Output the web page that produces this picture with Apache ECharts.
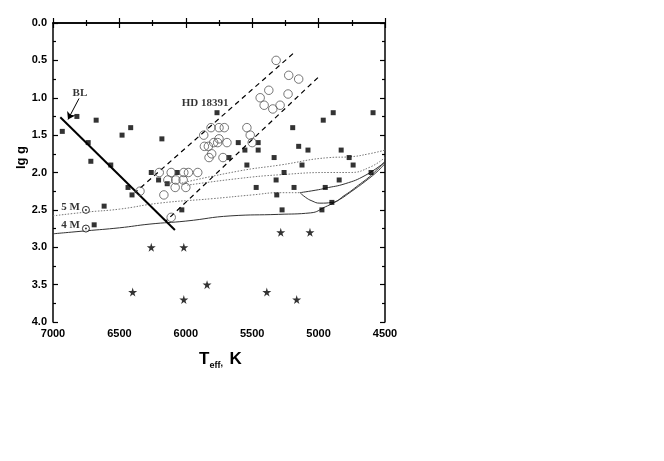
<!DOCTYPE html>
<html>
<head>
<meta charset="utf-8">
<script src="https://cdn.jsdelivr.net/npm/echarts@6/dist/echarts.min.js"></script>
<style>html,body{margin:0;padding:0;background:#fff}#c{width:664px;height:461px}</style>
</head>
<body>
<div id="c"></div>
<script>
// Filled squares (Teff, lg g)
const squares = [
  [6930,1.45],[6820,1.25],[6675,1.30],[6735,1.60],[6480,1.50],[6415,1.40],[6180,1.55],
  [6715,1.85],[6565,1.90],[6260,2.00],[6205,2.10],[6435,2.20],[6405,2.30],[6140,2.15],
  [6065,2.00],[6615,2.45],[6030,2.50],[6690,2.70],[5765,1.20],[5605,1.60],[5455,1.60],
  [5555,1.70],[5455,1.70],[5675,1.80],[5335,1.80],[5195,1.40],[5150,1.65],[5080,1.70],
  [4965,1.30],[4890,1.20],[4830,1.70],[4770,1.80],[4590,1.20],[5540,1.90],[5125,1.90],
  [5260,2.00],[5320,2.10],[5470,2.20],[5185,2.20],[4950,2.20],[4845,2.10],[5315,2.30],
  [4900,2.40],[4975,2.50],[5275,2.50],[4740,1.90],[4605,2.00]
];
// Open circles: HD 18391 cluster
const circles = [
  [5320,0.50],[5225,0.70],[5150,0.75],[5375,0.90],[5230,0.95],[5440,1.00],[5410,1.10],
  [5290,1.10],[5345,1.15],[5540,1.40],[5810,1.40],[5750,1.40],[5710,1.40],[5865,1.50],
  [5515,1.50],[5750,1.55],[5500,1.60],[5790,1.60],[5760,1.60],[5690,1.60],[5860,1.65],
  [5830,1.65],[5805,1.75],[5825,1.80],[5720,1.80],[6200,2.00],[6110,2.00],[6015,2.00],
  [5980,2.00],[5910,2.00],[6135,2.10],[6075,2.10],[6020,2.10],[6080,2.20],[6000,2.20],
  [6165,2.30],[6345,2.25],[6110,2.60]
];
// Stars
const stars = [
  [6260,3.0],[6015,3.0],[6400,3.6],[6015,3.7],[5285,2.8],[5065,2.8],[5840,3.5],[5390,3.6],[5165,3.7]
];
// Lines
const blLine = [[6945,1.26],[6082,2.77]];
const blArrow = [[6804,1.01],[6887,1.29]];
const hdUpper = [[5193,0.41],[6383,2.27]];
const hdLower = [[5005,0.73],[6150,2.65]];
// Evolutionary tracks
const track4M = [[7000,2.82],[6750,2.78],[6500,2.74],[6270,2.69],[6000,2.65],[5660,2.58],[5300,2.56],[5060,2.54],[4950,2.46],[4850,2.37],[4750,2.25],[4650,2.12],[4560,1.99],[4500,1.88]];
const track5Mdot = [[7000,2.58],[6750,2.53],[6500,2.49],[6200,2.41],[5800,2.35],[5500,2.30],[5290,2.27],[5140,2.27]];
const track5Mup = [[5140,2.27],[5000,2.23],[4950,2.21],[4800,2.15],[4650,2.04],[4500,1.86]];
const track5Mloop = [[5140,2.27],[5100,2.33],[5050,2.38],[4990,2.41],[4900,2.40],[4800,2.30],[4700,2.17],[4600,2.03],[4500,1.85]];
const trackDot1 = [[6030,2.14],[5600,1.98],[5290,1.90],[4915,1.80],[4765,1.79],[4620,1.75],[4500,1.70]];
const trackDot2 = [[5990,2.17],[5600,2.08],[5290,2.03],[4915,2.00],[4765,2.00],[4615,1.93],[4500,1.80]];
// Mass markers
const massMarks = [[6752,2.50],[6752,2.75]];
const massLabels = ['5 M', '4 M'];
// Tick settings
const xMin = 4500, xMax = 7000, xStep = 500;
const yMin = 0, yMax = 4, yStep = 0.5;

const starPath = 'path://M50,0 L61,35 L98,35 L68,57 L79,91 L50,70 L21,91 L32,57 L2,35 L39,35 Z';
const font = 'Liberation Sans, Arial, sans-serif';
const serif = 'Liberation Serif, Times New Roman, serif';

const chart = echarts.init(document.getElementById('c'), null, {renderer: 'canvas'});
const axisLine = {show: true, lineStyle: {color: '#000', width: 1.5}};
const tick = {show: true, inside: true, length: 5, lineStyle: {color: '#000', width: 1.2}};
const minor = {show: true, splitNumber: 2, length: 3, lineStyle: {color: '#000', width: 1.2}};

function lineSeries(data, style, smooth) {
  return {type: 'line', data: data, symbol: 'none', smooth: smooth || false, lineStyle: style, silent: true, z: 2};
}

chart.setOption({
  animation: false,
  backgroundColor: '#fff',
  grid: {left: 53, right: 279, top: 23, bottom: 139},
  xAxis: [
    {type: 'value', min: xMin, max: xMax, interval: xStep, inverse: true, position: 'bottom',
     axisLine: axisLine, axisTick: tick, minorTick: minor, splitLine: {show: false},
     axisLabel: {color: '#000', fontSize: 11, fontWeight: 'bold', fontFamily: font, margin: 6,
       formatter: v => String(v)}},
    {type: 'value', min: xMin, max: xMax, interval: xStep, inverse: true, position: 'top',
     axisLine: axisLine, axisTick: tick, minorTick: minor, splitLine: {show: false},
     axisLabel: {show: false}}
  ],
  yAxis: [
    {type: 'value', min: yMin, max: yMax, interval: yStep, inverse: true, position: 'left',
     axisLine: axisLine, axisTick: tick, minorTick: minor, splitLine: {show: false},
     axisLabel: {color: '#000', fontSize: 11, fontWeight: 'bold', fontFamily: font, margin: 6,
       formatter: v => v.toFixed(1)}},
    {type: 'value', min: yMin, max: yMax, interval: yStep, inverse: true, position: 'right',
     axisLine: axisLine, axisTick: tick, minorTick: minor, splitLine: {show: false},
     axisLabel: {show: false}}
  ],
  graphic: [
    {type: 'text', left: 15, top: 146, rotation: Math.PI / 2,
     style: {text: 'lg g', font: 'bold 13px ' + font, fill: '#000'}},
    {type: 'text', left: 199, top: 351,
     style: {text: '{t|T}{s|eff}{c|,}  {t|K}', fill: '#000',
       rich: {
         t: {fontSize: 17, fontFamily: font, fontWeight: 'bold', verticalAlign: 'bottom', lineHeight: 20},
         s: {fontSize: 9, fontFamily: font, fontWeight: 'bold', verticalAlign: 'bottom', lineHeight: 20, padding: [0,0,-2,0]},
         c: {fontSize: 9, fontFamily: font, fontWeight: 'bold', verticalAlign: 'bottom', lineHeight: 20}
       }}}
  ],
  series: [
    lineSeries(track4M, {color: '#333', width: 1}, true),
    lineSeries(track5Mdot, {color: '#777', width: 1, type: [1.5, 1.5]}, true),
    lineSeries(track5Mup, {color: '#333', width: 1}, true),
    lineSeries(track5Mloop, {color: '#333', width: 1}, true),
    lineSeries(trackDot1, {color: '#777', width: 1, type: [1.5, 1.5]}, true),
    lineSeries(trackDot2, {color: '#777', width: 1, type: [1.5, 1.5]}, true),
    lineSeries(hdUpper, {color: '#000', width: 1.2, type: [5, 4]}),
    lineSeries(hdLower, {color: '#000', width: 1.2, type: [5, 4]}),
    Object.assign(lineSeries(blLine, {color: '#000', width: 2}), {
      markLine: {silent: true, symbol: ['none', 'arrow'], symbolSize: 7,
        lineStyle: {color: '#000', width: 1, type: 'solid'}, label: {show: false},
        data: [[{coord: blArrow[0]}, {coord: blArrow[1]}]]}
    }),
    {type: 'scatter', data: squares, symbol: 'rect', symbolSize: 5,
     itemStyle: {color: '#000'}, z: 3},
    {type: 'scatter', data: circles, symbol: 'circle', symbolSize: 8.5,
     itemStyle: {color: 'rgba(255,255,255,0)', borderColor: '#555', borderWidth: 1}, z: 3},
    {type: 'scatter', data: stars, symbol: starPath, symbolSize: 9,
     itemStyle: {color: '#000'}, z: 3},
    {type: 'scatter', data: massMarks.map((p, i) => ({value: p, name: massLabels[i]})),
     symbol: 'circle', symbolSize: 7,
     itemStyle: {color: '#fff', borderColor: '#000', borderWidth: 1}, z: 4,
     label: {show: true, position: 'left', distance: 2, offset: [0, -3], color: '#000',
       fontFamily: serif, fontWeight: 'bold', fontSize: 11, formatter: p => p.name}},
    {type: 'scatter', data: massMarks, symbol: 'circle', symbolSize: 2,
     itemStyle: {color: '#000'}, z: 5},
    {type: 'scatter', data: [{value: [6797, 0.94], name: 'BL'}, {value: [5855, 1.07], name: 'HD 18391'}],
     symbolSize: 0, z: 5,
     label: {show: true, position: 'inside', color: '#000', fontFamily: serif, fontWeight: 'bold',
       fontSize: 11, formatter: p => p.name}}
  ]
});
</script>
</body>
</html>
